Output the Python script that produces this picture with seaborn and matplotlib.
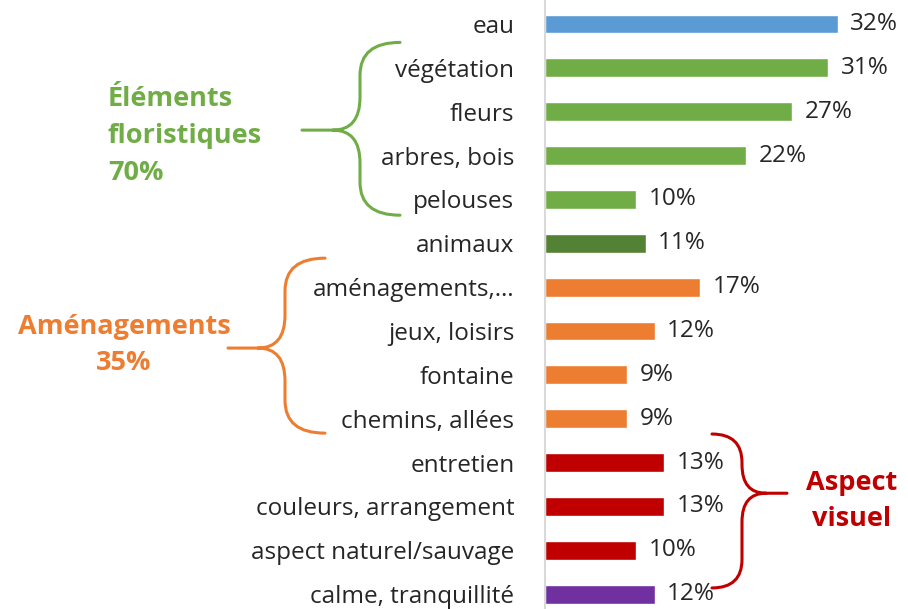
import numpy as np
import pandas as pd
import seaborn as sns
import matplotlib.pyplot as plt
from matplotlib.path import Path
from matplotlib.patches import PathPatch
from matplotlib.transforms import blended_transform_factory

# data
categories = ['eau', 'végétation', 'fleurs', 'arbres, bois', 'pelouses', 'animaux',
              'aménagements,…', 'jeux, loisirs', 'fontaine', 'chemins, allées',
              'entretien', 'couleurs, arrangement', 'aspect naturel/sauvage',
              'calme, tranquillité']
values = [32, 31, 27, 22, 10, 11, 17, 12, 9, 9, 13, 13, 10, 12]
colors = ['#5B9BD5', '#70AD47', '#70AD47', '#70AD47', '#70AD47', '#548235',
          '#ED7D31', '#ED7D31', '#ED7D31', '#ED7D31',
          '#C00000', '#C00000', '#C00000', '#7030A0']

df = pd.DataFrame({'cat': categories, 'val': values})

sns.set_theme(style='white')
plt.rcParams['font.family'] = ['Open Sans', 'DejaVu Sans']

W, H = 908, 609
fig = plt.figure(figsize=(W / 100, H / 100), dpi=100)
ax = fig.add_axes([545 / W, 0, 1 - 545 / W, 1])
ax.patch.set_visible(False)

sns.barplot(data=df, x='val', y='cat', hue='cat', palette=colors, legend=False,
            width=0.43, ax=ax, orient='h', saturation=1)

ax.set_xlim(0, 39.7)
ax.set_ylim(13.34, -0.547)
ax.set_xlabel('')
ax.set_ylabel('')
ax.set_xticks([])
for s in ['top', 'right', 'bottom']:
    ax.spines[s].set_visible(False)
ax.spines['left'].set_color('#D9D9D9')
ax.spines['left'].set_linewidth(1.5)
ax.tick_params(axis='y', length=0, pad=22, labelsize=17.5, labelcolor='#262626')

for c in ax.containers:
    ax.bar_label(c, labels=[f'{v:.0f}%' for v in c.datavalues], padding=9,
                 fontsize=17.5, color='#262626')

# overlay for braces, x in figure pixels, y in row units
ov = fig.add_axes([0, 0, 1, 1], zorder=-1)
ov.set_xlim(0, W)
ov.set_ylim(H, 0)
ov.axis('off')
tr = blended_transform_factory(ov.transData, ax.transData)


def brace(x_end, x_spine, x_cusp, x_tip, y0, y1, ym, r, color):
    verts = [(x_end, y0), (x_spine, y0), (x_spine, y0 + r),
             (x_spine, ym - r),
             (x_spine, ym), (x_cusp, ym),
             (x_tip, ym),
             (x_cusp, ym),
             (x_spine, ym), (x_spine, ym + r),
             (x_spine, y1 - r),
             (x_spine, y1), (x_end, y1)]
    codes = [Path.MOVETO, Path.CURVE3, Path.CURVE3,
             Path.LINETO,
             Path.CURVE3, Path.CURVE3,
             Path.LINETO,
             Path.MOVETO,
             Path.CURVE3, Path.CURVE3,
             Path.LINETO,
             Path.CURVE3, Path.CURVE3]
    p = PathPatch(Path(verts, codes), fill=False, edgecolor=color, lw=2.2,
                  transform=tr, clip_on=False, capstyle='round')
    ov.add_patch(p)


brace(400, 360, 333, 302, 0.42, 4.36, 2.42, 0.75, '#70AD47')
brace(325, 285, 258, 228, 5.34, 9.33, 7.39, 0.75, '#ED7D31')
brace(712, 742, 766, 787, 9.35, 12.86, 10.7, 0.65, '#C00000')

ov.text(108, 136, 'Éléments\nfloristiques\n70%', color='#70AD47', fontsize=19.5,
        fontweight='bold', ha='left', va='center', linespacing=1.55)
ov.text(124, 345, 'Aménagements\n35%', color='#ED7D31', fontsize=19.5,
        fontweight='bold', ha='center', va='center', linespacing=1.55)
ov.text(852, 501, 'Aspect\nvisuel', color='#C00000', fontsize=19.5,
        fontweight='bold', ha='center', va='center', linespacing=1.55)

fig.savefig('out.png', dpi=100)
